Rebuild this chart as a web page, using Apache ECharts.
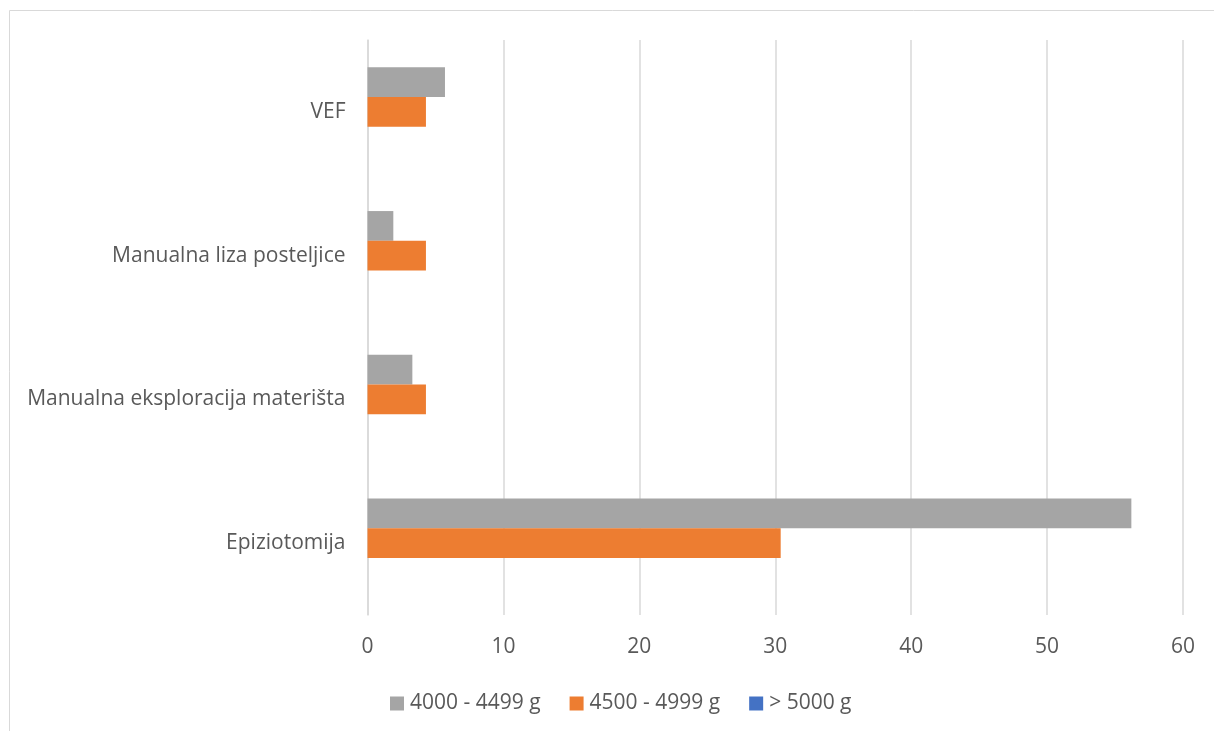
<!DOCTYPE html>
<html>
<head>
<meta charset="utf-8">
<script src="https://cdn.jsdelivr.net/npm/echarts@6/dist/echarts.min.js"></script>
<style>
html,body{margin:0;padding:0;background:#fff;}
#chart{width:1214px;height:731px;}
</style>
</head>
<body>
<div id="chart"></div>
<script>
const categories = ['Epiziotomija', 'Manualna eksploracija materišta', 'Manualna liza posteljice', 'VEF'];
const seriesNames = ['4000 - 4499 g', '4500 - 4999 g', '> 5000 g'];
const values4000 = [56.2, 3.3, 1.9, 5.7];
const values4500 = [30.4, 4.3, 4.3, 4.3];
const values5000 = [0, 0, 0, 0];
const xTicks = [0, 10, 20, 30, 40, 50, 60];

const colors = ['#a5a5a5', '#ed7d31', '#4472c4'];
const FONT = 'Open Sans';
const FS = 21;
const chart = echarts.init(document.getElementById('chart'));
const allValues = [values4000, values4500, values5000];
chart.setOption({
  animation: false,
  textStyle: { fontFamily: FONT },
  graphic: [{
    type: 'rect', silent: true,
    shape: { x: 9.5, y: 10.5, width: 1300, height: 800 },
    style: { fill: 'none', stroke: '#d9d9d9', lineWidth: 1 }
  }],
  legend: {
    bottom: 12, left: 385,
    itemWidth: 14, itemHeight: 14, itemGap: 29,
    icon: 'rect',
    textStyle: { color: '#595959', fontSize: FS, fontFamily: FONT, padding: [0, 0, 0, 1] },
    data: seriesNames
  },
  grid: { left: 367.5, right: 31, top: 40, bottom: 116, containLabel: false },
  xAxis: {
    type: 'value', min: xTicks[0], max: xTicks[xTicks.length - 1], interval: 10,
    axisLine: { show: false }, axisTick: { show: false },
    splitLine: { show: true, lineStyle: { color: '#d9d9d9', width: 1.5 } },
    axisLabel: { color: '#595959', fontSize: FS, margin: 22, fontFamily: FONT }
  },
  yAxis: {
    type: 'category', data: categories,
    axisLine: { show: true, lineStyle: { color: '#d9d9d9', width: 1.5 } },
    axisTick: { show: false },
    axisLabel: { color: '#595959', fontSize: FS, margin: 22, fontFamily: FONT }
  },
  series: seriesNames.map((n, i) => ({
    name: n, type: 'bar', data: allValues[i],
    barGap: '0%', barCategoryGap: '38%',
    itemStyle: { color: colors[i] }
  }))
});
</script>
</body>
</html>
